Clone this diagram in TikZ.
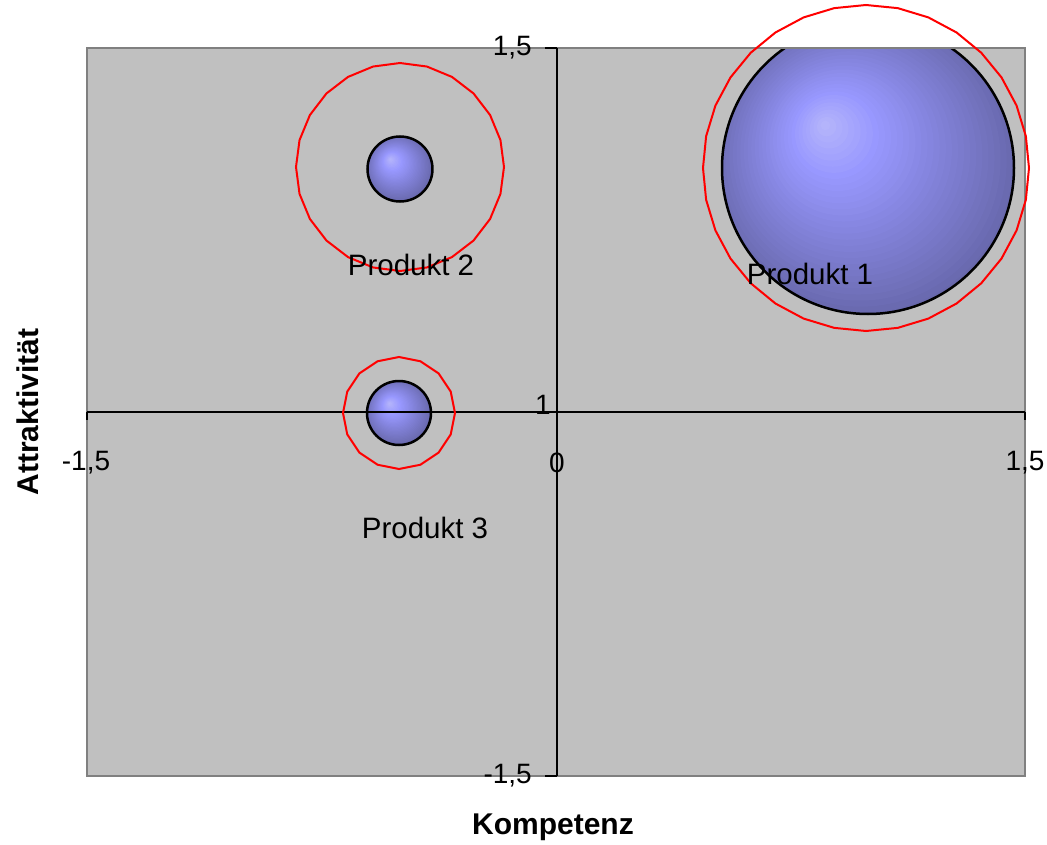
\documentclass[tikz,border=0pt]{standalone}
\usepackage{fontspec}
\setmainfont{Liberation Sans}
\usepackage{xcolor}
\usepackage{tikz}
\usetikzlibrary{calc}
\definecolor{plotbg}{RGB}{192,192,192}
\definecolor{frame}{RGB}{128,128,128}
\definecolor{ring}{RGB}{255,0,0}
\definecolor{bubblehi}{RGB}{184,184,250}
\definecolor{bubblemid}{RGB}{152,152,255}
\definecolor{bubbleedge}{RGB}{96,96,158}

% stepped sphere: #1 centre (named coordinate), #2 radius
\newcommand\bubbleball[2]{%
  \begin{scope}
  \clip (#1) circle[radius=#2];
  \foreach \k in {36,...,1}{
    \pgfmathsetmacro\t{\k/36}
    \ifdim\t pt<0.25pt
      \pgfmathsetmacro\p{100*\t/0.25}\colorlet{balltone}{bubblemid!\p!bubblehi}
    \else
      \pgfmathsetmacro\p{100*(\t-0.25)/0.75}\colorlet{balltone}{bubbleedge!\p!bubblemid}
    \fi
    \fill[fill=balltone] ($(#1)+({-0.3*#2*(1-\t)},{0.3*#2*(1-\t)})$) circle[radius={1.2*#2*\t}];
  }
  \end{scope}
  \draw[black, line width=2.5pt] (#1) circle[radius=#2];}

\begin{document}
\begin{tikzpicture}[x=1pt, y=1pt, every node/.style={inner sep=0pt, font=\fontsize{28}{33}\selectfont},
  axis/.style={line width=2pt, black},
  halo/.style={draw=ring, line width=2pt},
  prod/.style={font=\fontsize{29.5}{35}\selectfont},
  title/.style={font=\fontsize{30}{35}\bfseries}]

% canvas, origin = axes crossing
\useasboundingbox (-557,-432) rectangle (490,412);
\coordinate (sw) at (-470,-364);
\coordinate (ne) at (468,364);
\fill[plotbg] (sw) rectangle (ne);

\coordinate (b1) at (311,244);
\coordinate (b2) at (-157,243);
\coordinate (b3) at (-158,-1);

% bubbles, clipped to the plot area
\begin{scope}
\clip (sw) rectangle (ne);
\bubbleball{b1}{146}
\bubbleball{b2}{32.5}
\bubbleball{b3}{32}
\end{scope}
\draw[frame, line width=2pt] (sw) rectangle (ne);

% axes
\draw[axis] (0,-364) -- (0,364);
\draw[axis] (-470,0) -- (468,0);
\draw[axis] (0,364) -- ++(-12,0);
\draw[axis] (0,-364) -- ++(-12,0);
\draw[axis] (-470,0) -- ++(0,-8);
\draw[axis] (468,0) -- ++(0,-8);

% rings
\draw[halo] plot[samples=33, domain=0:360] ({309+163*cos(\x)},{244+163*sin(\x)}) -- cycle;
\draw[halo] plot[samples=25, domain=0:360] ({-157+104*cos(\x)},{245+104*sin(\x)}) -- cycle;
\draw[halo] plot[samples=17, domain=0:360] ({-158+56*cos(\x)},{-1+56*sin(\x)}) -- cycle;

% tick labels
\node (ytop)[anchor=east] at (-25,364) {1,5};
\node (ymid)[anchor=base east] at (-6,-2) {1};
\node (ybot)[anchor=east] at (-25,-364) {-1,5};
\node (xl) at (-471,-51) {-1,5};
\node (xm) at (0,-51) {0};
\node (xr) at (468,-51) {1,5};

% product labels
\node (p1)[prod] at (253,138) {Produkt 1};
\node (p2)[prod] at (-146,147) {Produkt 2};
\node (p3)[prod] at (-132,-116) {Produkt 3};

% axis titles
\node (kom)[title] at (-4,-415) {Kompetenz};
\node (att)[title, rotate=90] at (-529,0) {Attraktivität};
\end{tikzpicture}
\end{document}
